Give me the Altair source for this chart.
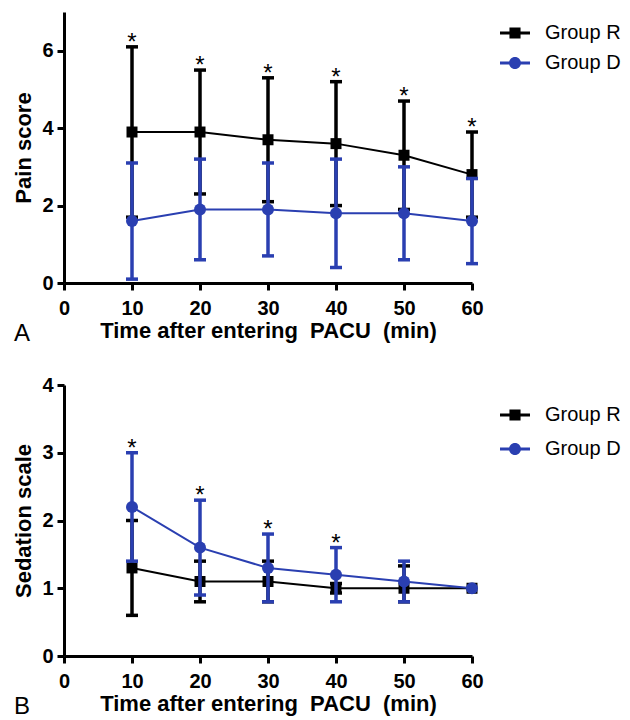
import altair as alt
import pandas as pd

FONT = "Liberation Sans"

# ---------------- data ----------------
time = [10, 20, 30, 40, 50, 60]
groups = ["Group R", "Group D"]
colors = ["#000000", "#2a3fb1"]

# Panel A: Pain score (mean, upper and lower error bar ends)
pain_R_mean = [3.9, 3.9, 3.7, 3.6, 3.3, 2.8]
pain_R_hi = [6.1, 5.5, 5.3, 5.2, 4.7, 3.9]
pain_R_lo = [1.7, 2.3, 2.1, 2.0, 1.9, 1.7]
pain_R_star = [1, 1, 1, 1, 1, 1]
pain_D_mean = [1.6, 1.9, 1.9, 1.8, 1.8, 1.6]
pain_D_hi = [3.1, 3.2, 3.1, 3.2, 3.0, 2.7]
pain_D_lo = [0.1, 0.6, 0.7, 0.4, 0.6, 0.5]
pain_D_star = [0, 0, 0, 0, 0, 0]

# Panel B: Sedation scale
sed_R_mean = [1.3, 1.1, 1.1, 1.0, 1.0, 1.0]
sed_R_hi = [2.0, 1.4, 1.4, 1.07, 1.33, 1.0]
sed_R_lo = [0.6, 0.8, 0.8, 0.93, 0.8, 1.0]
sed_R_star = [0, 0, 0, 0, 0, 0]
sed_D_mean = [2.2, 1.6, 1.3, 1.2, 1.1, 1.0]
sed_D_hi = [3.0, 2.3, 1.8, 1.6, 1.4, 1.0]
sed_D_lo = [1.4, 0.9, 0.8, 0.8, 0.8, 1.0]
sed_D_star = [1, 1, 1, 1, 0, 0]

x_ticks = [0, 10, 20, 30, 40, 50, 60]
x_title = "Time after entering \u00a0PACU \u00a0(min)"

# legend symbols: line segment with marker
legend_paths = [
    "M-1,-0.1H1V0.1H-1Z M-0.37,-0.37H0.37V0.37H-0.37Z",
    "M-1,-0.1H1V0.1H-1Z M-0.4,0A0.4,0.4 0 1,1 0.4,0A0.4,0.4 0 1,1 -0.4,0Z",
]
marker_shapes = ["square", "circle"]
marker_sizes = [121, 144]


def make_df(r, d):
    rows = []
    for g, (m, h, l, s) in zip(groups, [r, d]):
        for t, mi, hi, lo, st in zip(time, m, h, l, s):
            rows.append(dict(group=g, time=t, mean=mi, hi=hi, lo=lo, star=st))
    return pd.DataFrame(rows)


def panel(df, ytitle, ymax, yvals, letter, legend_y, row_pad):
    xenc = alt.X("time:Q", scale=alt.Scale(domain=[0, 60], nice=False, zero=False),
                 axis=alt.Axis(values=x_ticks, title=x_title, labelFlush=False,
                               labelOverlap=False, labelPadding=8, titlePadding=2))
    yscale = alt.Scale(domain=[0, ymax], nice=False, zero=True)
    yaxis = alt.Axis(values=yvals, title=ytitle, labelPadding=4, titlePadding=6,
                     labelFlush=False, labelOverlap=False)

    def yenc(field):
        return alt.Y(f"{field}:Q", scale=yscale, axis=yaxis, title=ytitle)

    layers = []
    for g, col, shp, sz in zip(groups, colors, marker_shapes, marker_sizes):
        base = alt.Chart(df).transform_filter(alt.datum.group == g)
        bars = base.transform_filter("datum.hi > datum.lo")
        layers += [
            bars.mark_rule(color=col, strokeWidth=3.5).encode(x=xenc, y=yenc("lo"), y2="hi:Q"),
            bars.mark_tick(color=col, orient="horizontal", thickness=3.5, size=12, opacity=1)
                .encode(x=xenc, y=yenc("hi")),
            bars.mark_tick(color=col, orient="horizontal", thickness=3.5, size=12, opacity=1)
                .encode(x=xenc, y=yenc("lo")),
            base.mark_line(color=col, strokeWidth=2).encode(x=xenc, y=yenc("mean")),
            base.mark_point(shape=shp, filled=True, size=sz, color=col, opacity=1)
                .encode(x=xenc, y=yenc("mean")),
        ]
    stars = alt.Chart(df).transform_filter("datum.star == 1").mark_text(
        text="*", fontSize=24, font=FONT, baseline="alphabetic", dy=3, color="#000000"
    ).encode(x=xenc, y=yenc("hi"))
    leg = dict(orient="none", legendX=436, legendY=legend_y, direction="vertical",
               title=None, padding=0, symbolSize=900, symbolStrokeWidth=0, symbolOpacity=1,
               labelFont=FONT, labelFontSize=20, labelFontWeight="normal", labelColor="#000000",
               labelOffset=15, rowPadding=row_pad)
    legend_layer = alt.Chart(df).mark_point(filled=True, opacity=0).encode(
        x=xenc, y=yenc("mean"),
        color=alt.Color("group:N", scale=alt.Scale(domain=groups, range=colors), legend=alt.Legend(**leg)),
        shape=alt.Shape("group:N", scale=alt.Scale(domain=groups, range=legend_paths), legend=alt.Legend(**leg)),
    )
    return alt.layer(*layers, stars, legend_layer).properties(
        width=408, height=271,
        title=alt.TitleParams(letter, orient="bottom", anchor="start", frame="bounds",
                              fontSize=24, fontWeight="normal", font=FONT, color="#000000",
                              offset=-19, dx=1),
    )


df_a = make_df((pain_R_mean, pain_R_hi, pain_R_lo, pain_R_star),
               (pain_D_mean, pain_D_hi, pain_D_lo, pain_D_star))
df_b = make_df((sed_R_mean, sed_R_hi, sed_R_lo, sed_R_star),
               (sed_D_mean, sed_D_hi, sed_D_lo, sed_D_star))

top = panel(df_a, "Pain score", 7, [0, 2, 4, 6], "A", 6, 5)
bottom = panel(df_b, "Sedation scale", 4, [0, 1, 2, 3, 4], "B", 15, 9)

chart = alt.vconcat(
    top, bottom, spacing=29, background="white",
    padding={"left": 4, "top": 4, "right": 0, "bottom": 0},
).resolve_scale(
    color="independent", shape="independent"
).resolve_legend(
    color="independent", shape="independent"
).configure_view(
    stroke=None
).configure_axis(
    domainColor="#000000", domainWidth=3, tickColor="#000000", tickWidth=3, tickSize=7,
    labelFont=FONT, labelFontSize=20, labelFontWeight="bold", labelColor="#000000",
    titleFont=FONT, titleFontSize=22, titleFontWeight="bold", titleColor="#000000", grid=False,
)

chart.save("out.html", embed_options={"renderer": "svg", "actions": False})
